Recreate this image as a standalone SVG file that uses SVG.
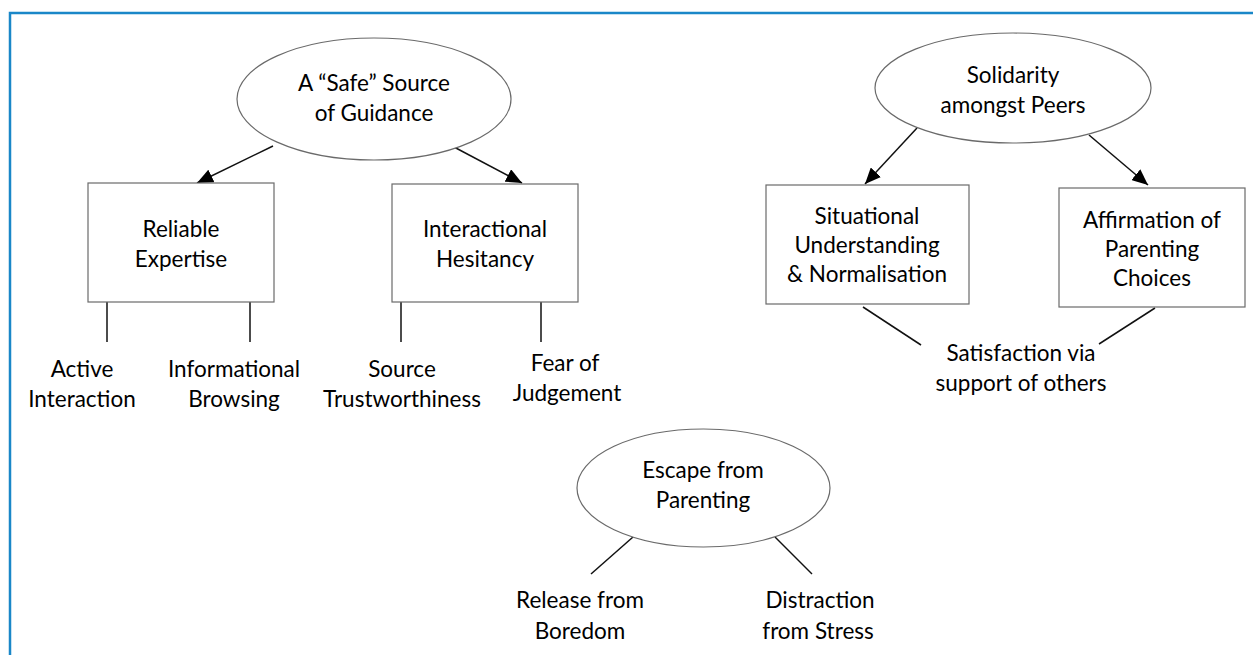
<svg xmlns="http://www.w3.org/2000/svg" width="1253" height="655" viewBox="0 0 1253 655">
<style>
text{font-family:Lato,"Liberation Sans",sans-serif;font-size:22.5px;fill:#000;text-anchor:middle}
.n{fill:#fff;stroke:#6a6a6a;stroke-width:1.2}
.c{stroke:#111;stroke-width:1.5;fill:none}
</style>
<defs>
<marker id="ah2" viewBox="0 0 16 14" refX="16" refY="7" markerWidth="16" markerHeight="14" markerUnits="userSpaceOnUse" orient="auto">
<path d="M0,0 L16,7 L0,14 z" fill="#000"/>
</marker>
</defs>
<rect x="10" y="13" width="1260" height="660" fill="none" stroke="#1a87c8" stroke-width="2.5"/>
<g id="connectors">
<line class="c" x1="273" y1="146" x2="197" y2="183" marker-end="url(#ah2)"/>
<line class="c" x1="454" y1="147" x2="522" y2="183" marker-end="url(#ah2)"/>
<line class="c" x1="917" y1="128" x2="865" y2="184" marker-end="url(#ah2)"/>
<line class="c" x1="1089" y1="135" x2="1148" y2="185" marker-end="url(#ah2)"/>
<line class="c" x1="107" y1="302" x2="107" y2="342"/>
<line class="c" x1="250" y1="302" x2="250" y2="342"/>
<line class="c" x1="401" y1="302" x2="401" y2="342"/>
<line class="c" x1="541" y1="302" x2="541" y2="342"/>
<line class="c" x1="863" y1="307" x2="921" y2="345"/>
<line class="c" x1="1155" y1="308" x2="1099" y2="344"/>
<line class="c" x1="633" y1="537" x2="591" y2="574"/>
<line class="c" x1="775" y1="537" x2="812" y2="574"/>
</g>
<g id="safe-source">
<ellipse class="n" cx="374" cy="99" rx="137" ry="61"/>
<text x="374" y="91">A “Safe” Source</text>
<text x="374" y="121">of Guidance</text>
</g>
<g id="reliable-expertise">
<rect class="n" x="88" y="183" width="186" height="119"/>
<text x="181" y="237">Reliable</text>
<text x="181" y="267">Expertise</text>
</g>
<g id="interactional-hesitancy">
<rect class="n" x="392" y="184" width="186" height="118"/>
<text x="485" y="237">Interactional</text>
<text x="485" y="267">Hesitancy</text>
</g>
<g id="active-interaction">
<text x="82" y="377">Active</text>
<text x="82" y="407">Interaction</text>
</g>
<g id="informational-browsing">
<text x="234" y="377">Informational</text>
<text x="234" y="407">Browsing</text>
</g>
<g id="source-trustworthiness">
<text x="402" y="377">Source</text>
<text x="402" y="407">Trustworthiness</text>
</g>
<g id="fear-of-judgement">
<text x="565" y="371">Fear of</text>
<text x="567" y="401">Judgement</text>
</g>
<g id="solidarity">
<ellipse class="n" cx="1013" cy="88" rx="138" ry="55"/>
<text x="1013" y="83">Solidarity</text>
<text x="1013" y="113">amongst Peers</text>
</g>
<g id="situational-understanding">
<rect class="n" x="766" y="185" width="203" height="119"/>
<text x="867" y="224">Situational</text>
<text x="867" y="253">Understanding</text>
<text x="867" y="282">&amp; Normalisation</text>
</g>
<g id="affirmation">
<rect class="n" x="1059" y="188" width="186" height="119"/>
<text x="1152" y="228">Affirmation of</text>
<text x="1152" y="257">Parenting</text>
<text x="1152" y="286">Choices</text>
</g>
<g id="satisfaction">
<text x="1021" y="361">Satisfaction via</text>
<text x="1021" y="391">support of others</text>
</g>
<g id="escape">
<ellipse class="n" cx="703.5" cy="488" rx="126.5" ry="59"/>
<text x="703" y="478">Escape from</text>
<text x="703" y="508">Parenting</text>
</g>
<g id="release">
<text x="580" y="608">Release from</text>
<text x="580" y="639">Boredom</text>
</g>
<g id="distraction">
<text x="820" y="608">Distraction</text>
<text x="818" y="639">from Stress</text>
</g>
</svg>
